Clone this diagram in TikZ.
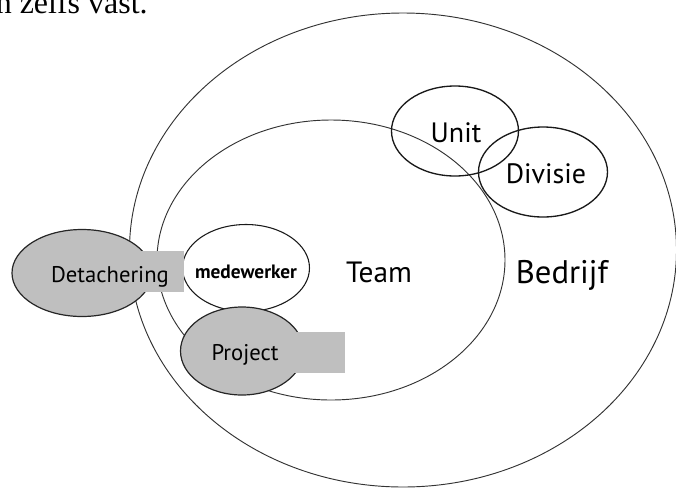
\documentclass[tikz,border=0pt]{standalone}
\usepackage{fontspec}
\setmainfont{Liberation Serif}
\newfontfamily\labelfont{PT Sans}
\usetikzlibrary{shapes.geometric}

\begin{document}
\begin{tikzpicture}[
        x=0.75pt, y=-0.75pt,
        ring/.style={draw=black!80, line width=0.7pt, ellipse, inner sep=0pt},
        unitring/.style={draw=black!90, line width=1pt, ellipse, inner sep=0pt},
        grayring/.style={draw=black!85, line width=0.9pt, fill=gray!50, ellipse, inner sep=0pt},
        graytab/.style={fill=gray!50, inner sep=0pt},
        lbl/.style={font=\labelfont, anchor=base, inner sep=0pt}
    ]
        \useasboundingbox (0,0) rectangle (676,487);

        % Cut-off line of the surrounding text
        \node[anchor=base east, inner sep=0pt, font=\fontsize{24}{28}\selectfont] (tail) at (148,13) {n zelfs vast.};

        % Company and team
        \node[ring, minimum width=547*0.75pt, minimum height=474*0.75pt] (bedrijf) at (403,250) {};
        \node[ring, minimum width=348*0.75pt, minimum height=280*0.75pt] (team) at (331,260) {};

        % Unit and Divisie
        \node[unitring, minimum width=127*0.75pt, minimum height=90*0.75pt] (unit) at (455,131) {};
        \node[unitring, minimum width=129*0.75pt, minimum height=90*0.75pt] (divisie) at (543,172) {};

        % Employee
        \node[unitring, line width=0.8pt, fill=white, minimum width=127*0.75pt, minimum height=87*0.75pt] (medew) at (246,268) {};

        % Detachering with its tab
        \node[grayring, minimum width=140*0.75pt, minimum height=87*0.75pt] (detach) at (82,273) {};
        \node[graytab, minimum width=53*0.75pt, minimum height=41*0.75pt] (detachtab) at (157,271.5) {};

        % Project with its tab
        \node[grayring, minimum width=123*0.75pt, minimum height=88*0.75pt] (project) at (242,351) {};
        \node[graytab, minimum width=65*0.75pt, minimum height=41*0.75pt] (projecttab) at (312.5,352.5) {};

        % Labels
        \node[lbl, font=\labelfont\fontsize{21}{25}\selectfont] (unitlbl) at (456,142) {Unit};
        \node[lbl, font=\labelfont\fontsize{21}{25}\selectfont] (divlbl) at (546,183) {Divisie};
        \node[lbl, font=\labelfont\fontsize{22}{26}\selectfont] (teamlbl) at (379,282) {Team};
        \node[lbl, font=\labelfont\fontsize{24.5}{28}\selectfont] (bedrlbl) at (562,283) {Bedrijf};
        \node[lbl, font=\labelfont\fontsize{17}{20}\selectfont] (detlbl) at (110,282) {Detachering};
        \node[lbl, font=\labelfont\bfseries\fontsize{14.5}{17}\selectfont] (medlbl) at (246,278) {medewerker};
        \node[lbl, font=\labelfont\fontsize{17}{20}\selectfont] (projlbl) at (245,360) {Project};

    \end{tikzpicture}
\end{document}
